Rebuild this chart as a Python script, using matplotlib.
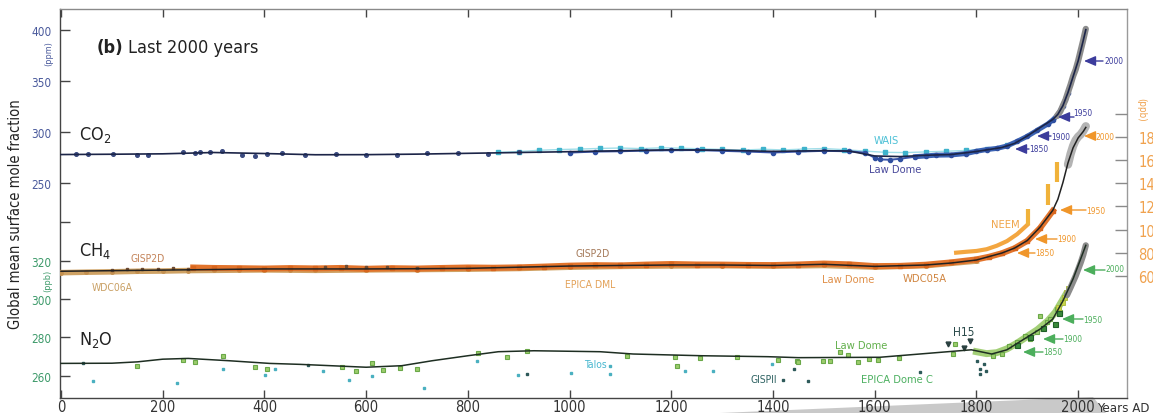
import matplotlib
matplotlib.use('Agg')
import matplotlib.pyplot as plt
from matplotlib.patches import Polygon, FancyArrowPatch
from matplotlib import font_manager as fm

# ---------------- data ----------------
# CO2 (ppm)
co2_line_year = [0, 100, 200, 300, 400, 500, 600, 700, 800, 900, 1000, 1100, 1200, 1300, 1400, 1500, 1550,
                 1600, 1650, 1700, 1750, 1800, 1850, 1875, 1900, 1925, 1950, 1960, 1970, 1980, 1990, 2000, 2010, 2015]
co2_line_ppm = [277.6, 277.9, 278.3, 279.6, 278.6, 277.4, 277.5, 278.0, 278.8, 279.6, 280.4, 281.3, 282.2, 281.9,
                280.7, 281.4, 281.0, 276.2, 275.6, 276.9, 277.6, 280.6, 284.5, 288.5, 295.8, 304.0, 312.0, 317.0,
                325.5, 338.5, 354.0, 369.5, 389.5, 400.0]
co2_dc_year = [30, 53, 102, 150, 171, 240, 264, 273, 293, 317, 356, 381, 405, 435, 480, 540, 600, 660, 720, 780, 840, 900]
co2_dc_ppm = [278.1, 278.1, 278.1, 277.5, 277.5, 279.8, 278.8, 279.8, 280.4, 281.4, 277.5, 276.5, 278.1, 279.1,
              277.6, 278.4, 276.8, 277.6, 279.2, 279.0, 278.6, 279.8]
wais_year = [860, 900, 940, 980, 1020, 1060, 1100, 1140, 1180, 1220, 1260, 1300, 1340, 1380, 1420, 1460, 1500,
             1540, 1580, 1620, 1660, 1700, 1740, 1780, 1820, 1860]
wais_ppm = [279.8, 280.5, 281.8, 282.5, 283.0, 283.6, 284.0, 283.4, 284.2, 283.8, 283.2, 282.6, 282.0, 282.8,
            282.1, 283.0, 283.5, 282.4, 281.0, 279.8, 279.5, 280.2, 280.8, 281.6, 283.5, 286.5]
ld_co2_year = [1000, 1050, 1100, 1150, 1200, 1250, 1300, 1350, 1400, 1450, 1500, 1550, 1580, 1600, 1610, 1630,
               1650, 1680, 1700, 1720, 1750, 1780, 1800, 1820, 1840, 1860, 1880, 1900, 1920, 1940, 1950, 1960,
               1970, 1980]
ld_co2_ppm = [279.5, 280.5, 280.8, 281.5, 281.8, 282.0, 281.2, 280.5, 279.6, 280.5, 281.2, 280.8, 279.5, 274.5,
              272.8, 272.5, 273.5, 275.5, 276.2, 277.0, 277.2, 278.6, 280.8, 282.5, 283.6, 286.0, 290.5, 295.5,
              301.5, 307.5, 311.5, 316.5, 325.0, 338.0]
co2_modern_year = [1958, 1965, 1970, 1975, 1980, 1985, 1990, 1995, 2000, 2005, 2010, 2015]
co2_modern_ppm = [315.3, 320.0, 325.7, 331.1, 338.8, 346.1, 354.4, 360.8, 369.6, 379.8, 389.9, 400.8]

# CH4 (ppb)
ch4_line_year = [0, 100, 200, 300, 400, 500, 600, 700, 800, 900, 1000, 1100, 1200, 1300, 1400, 1500, 1600, 1700,
                 1750, 1800, 1850, 1875, 1900, 1925, 1950, 1960, 1970, 1980, 1990, 2000, 2010, 2015]
ch4_line_ppb = [640, 645, 650, 655, 660, 660, 660, 662, 665, 675, 685, 690, 694, 694, 690, 700, 682, 694, 711,
                737, 797, 840, 905, 1020, 1165, 1260, 1405, 1575, 1705, 1790, 1845, 1880]
ch4_tan_year = [0, 50, 100, 150, 200, 250, 300, 350, 400, 450, 500, 600, 700, 800, 900, 1000, 1100, 1200, 1300,
                1400, 1500, 1600, 1700, 1800]
ch4_tan_ppb = [628, 632, 635, 640, 642, 646, 648, 650, 652, 650, 648, 652, 655, 658, 664, 675, 682, 686, 688, 684,
               690, 676, 688, 728]
ch4_band_year = [260, 300, 350, 400, 450, 500, 550, 600, 650, 700, 750, 800, 850, 900, 950, 1000, 1050, 1100, 1150,
                 1200, 1250, 1300, 1350, 1400, 1450, 1500, 1550, 1600, 1650, 1700, 1750, 1800, 1825, 1850, 1875,
                 1900, 1925, 1950]
ch4_band_ppb = [672, 668, 666, 663, 667, 664, 668, 661, 666, 663, 668, 672, 670, 673, 680, 688, 692, 690, 697, 702,
                698, 697, 694, 693, 698, 706, 699, 684, 686, 696, 716, 742, 765, 795, 838, 902, 1012, 1160]
ch4_gisp_year = [100, 130, 160, 190, 220, 250, 520, 560, 600, 640, 700]
ch4_gisp_ppb = [655, 660, 662, 658, 664, 660, 680, 684, 679, 676, 672]
neem_year = [1760, 1780, 1800, 1820, 1840, 1860, 1880, 1900]
neem_ppb = [800, 808, 815, 830, 860, 900, 960, 1040]
neem_streak_year = [1902, 1940, 1958]
neem_streak_lo = [1040, 1210, 1410]
neem_streak_hi = [1180, 1390, 1580]
ch4_modern_year = [1980, 1985, 1990, 1995, 2000, 2005, 2010, 2015]
ch4_modern_ppb = [1560, 1650, 1720, 1770, 1800, 1820, 1850, 1890]

# N2O (ppb)
n2o_line_year = [0, 100, 150, 200, 250, 330, 410, 470, 600, 670, 730, 800, 860, 930, 1060, 1125, 1260, 1390, 1450,
                 1610, 1730, 1790, 1830, 1860, 1890, 1925, 1950, 1970, 1990, 2005, 2015]
n2o_line_ppb = [266.4, 266.5, 267.2, 268.6, 269.0, 267.8, 266.4, 265.9, 264.4, 265.2, 267.8, 270.4, 272.5, 273.0,
                272.5, 271.3, 270.4, 269.9, 269.4, 269.6, 272.2, 273.5, 271.3, 273.5, 278.5, 284.3, 289.5, 299.0,
                310.5, 321.0, 328.0]
n2o_green_year = [149, 240, 264, 318, 382, 405, 552, 580, 611, 634, 667, 700, 820, 877, 916, 1113, 1207, 1211, 1257,
                  1329, 1410, 1447, 1450, 1499, 1512, 1532, 1548, 1567, 1589, 1607, 1648, 1754, 1758, 1833, 1850,
                  1863, 1880, 1896, 1906, 1919, 1925, 1939, 1945, 1958, 1965]
n2o_green_ppb = [265.2, 268.0, 267.0, 270.4, 264.4, 263.5, 264.5, 262.6, 266.4, 263.0, 264.0, 263.5, 271.7, 270.0,
                 272.7, 270.4, 269.9, 265.2, 269.4, 269.9, 268.0, 267.8, 267.3, 267.6, 267.8, 272.5, 270.8, 267.3,
                 268.7, 268.2, 269.0, 271.3, 276.5, 270.4, 271.3, 275.6, 277.4, 280.9, 279.1, 282.6, 291.3, 287.8,
                 289.6, 294.8, 293.0]
n2o_band_year = [1800, 1820, 1840, 1860, 1880, 1900, 1920, 1940, 1955, 1965, 1975]
n2o_band_ppb = [272.5, 271.5, 272.0, 274.0, 277.0, 280.5, 284.0, 288.5, 293.0, 297.5, 302.0]
n2o_dkgreen_year = [1880, 1906, 1930, 1955, 1962]
n2o_dkgreen_ppb = [276.0, 280.0, 285.0, 287.0, 292.5]
n2o_yellow_year = [1960, 1968, 1972, 1976, 1980]
n2o_yellow_ppb = [296.0, 298.5, 301.0, 303.5, 305.5]
talos_year = [63, 228, 318, 401, 421, 516, 567, 611, 714, 818, 899, 1003, 1080, 1080, 1227, 1282, 1398]
talos_ppb = [257.4, 256.0, 263.5, 260.4, 263.5, 262.4, 257.7, 260.0, 253.6, 267.8, 260.4, 261.4, 265.2, 260.7,
             262.6, 262.3, 266.1]
gispii_year = [43, 486, 916, 1420, 1441, 1469, 1689, 1801, 1807, 1807, 1815, 1818]
gispii_ppb = [266.4, 265.7, 260.9, 257.7, 263.5, 257.4, 262.1, 267.8, 263.5, 260.9, 266.1, 262.6]
h15_year = [1744, 1775, 1788]
h15_ppb = [276.5, 274.5, 278.3]
n2o_modern_year = [1978, 1985, 1990, 1995, 2000, 2005, 2010, 2015]
n2o_modern_ppb = [302.0, 306.0, 309.0, 312.0, 315.5, 319.0, 323.0, 328.0]

year_ticks = [0, 200, 400, 600, 800, 1000, 1200, 1400, 1600, 1800, 2000]
co2_ticks = [250, 300, 350, 400]
n2o_ticks = [260, 280, 300, 320, 340]
n2o_ticklabels = ['260', '280', '300', '320', '']
ch4_ticks = [600, 800, 1000, 1200, 1400, 1600, 1800, 2000]
ch4_ticklabels = ['600', '800', '1000', '1200', '1400', '1600', '1800', '']

# ---------------- fonts: prefer a condensed face ----------------
_fonts = fm.fontManager.ttflist
_names = {f.name for f in _fonts}
NARROW = True
STRETCH = 'normal'
if 'Liberation Sans Narrow' in _names:
    FAM = 'Liberation Sans Narrow'
else:
    _cond = [f.name for f in _fonts
             if str(f.stretch) in ('condensed', 'semi-condensed', 'extra-condensed', '75', '87.5', '62.5')]
    if _cond:
        FAM = _cond[0]
        STRETCH = 'condensed'
    else:
        FAM = 'Roboto' if 'Roboto' in _names else 'DejaVu Sans'
        NARROW = False
plt.rcParams['font.family'] = [FAM, 'DejaVu Sans']
plt.rcParams['font.stretch'] = STRETCH
plt.rcParams['mathtext.fontset'] = 'custom'
plt.rcParams['mathtext.rm'] = FAM
plt.rcParams['mathtext.it'] = FAM
K = 1.0 if NARROW else 0.86   # shrink text when no condensed face is available

W, H = 1153, 414
fig = plt.figure(figsize=(W / 100, H / 100), dpi=100)
L, R, T, B = 60, 1127, 10, 399

# grey "Years AD" wedge behind axis
fig.add_artist(Polygon([(720 / W, 0), (1093 / W, 1 - 398 / H), (1106 / W, 0)],
                       closed=True, transform=fig.transFigure, facecolor='#c9c9c9', edgecolor='none', zorder=0))

ax = fig.add_axes([L / W, 1 - B / H, (R - L) / W, (B - T) / H])
ax.patch.set_alpha(0)
ax_n = ax.twinx()
ax_c = ax.twinx()
ax_n.yaxis.tick_left()
for a in (ax_n, ax_c):
    for s in a.spines.values():
        s.set_visible(False)

ax.set_xlim(-2, 2096)
ax.set_ylim(38.9, 420.3)
ax_n.set_ylim(248.35, 451.3)
ax_c.set_ylim(-452.6, 2900.9)

ax.spines['left'].set_color('#444444')
ax.spines['bottom'].set_color('#444444')
ax.spines['top'].set_color('#8a8a8a')
ax.spines['right'].set_color('#9a9a9a')
for s in ax.spines.values():
    s.set_linewidth(1.0)

ax.set_xticks(year_ticks)
ax.set_xticklabels([str(y) for y in year_ticks])
ax.tick_params(axis='x', direction='in', length=6, width=1, top=True, bottom=True, color='#444444',
               labelsize=10.5 * K, labelcolor='#333333', pad=0.5)
ax.set_yticks(co2_ticks)
ax.set_yticklabels([str(v) for v in co2_ticks])
ax.tick_params(axis='y', direction='in', length=7, width=1, color='#444444', labelsize=8.5 * K,
               labelcolor='#4a5a9c', pad=6, left=True, right=False)
ax_n.set_yticks(n2o_ticks)
ax_n.set_yticklabels(n2o_ticklabels)
ax_n.tick_params(axis='y', direction='in', length=7, width=1, color='#444444', labelsize=8.5 * K,
                 labelcolor='#3d9a6a', pad=6, left=True, right=False, labelleft=True, labelright=False)
ax_c.set_yticks(ch4_ticks)
ax_c.set_yticklabels(ch4_ticklabels)
ax_c.tick_params(axis='y', direction='in', length=9, width=1, color='#8a8a8a', labelsize=10.5 * K,
                 labelcolor='#f0a24e', pad=8, right=True, left=False)

# ---------------- CO2 ----------------
ax.plot(wais_year, wais_ppm, color='#62c8da', lw=1.0, alpha=0.6, zorder=2)
ax.plot(wais_year, wais_ppm, 's', ms=2.2, color='#3fb3cc', zorder=3)
ax.plot(ld_co2_year, ld_co2_ppm, color='#3b55a8', lw=1.4, zorder=3)
ax.plot(ld_co2_year[17:], ld_co2_ppm[17:], color='#3b63b4', lw=3.6, zorder=3)
ax.plot(ld_co2_year, ld_co2_ppm, 'o', ms=3.0, color='#2f4fa0', zorder=3)
ax.plot(co2_dc_year, co2_dc_ppm, 'o', ms=2.6, color='#3a4a80', zorder=3)
ax.plot(co2_modern_year, co2_modern_ppm, color='#8c8c8c', lw=4.5, solid_capstyle='round', zorder=4)
ax.plot(co2_line_year, co2_line_ppm, color='#1c2548', lw=1.2, zorder=5)

# ---------------- CH4 ----------------
ax_c.plot(ch4_tan_year, ch4_tan_ppb, color='#cfa264', lw=4.0, zorder=2)
ax_c.plot(ch4_tan_year, ch4_tan_ppb, 'o', ms=2.5, color='#c49050', zorder=2)
ax_c.plot(ch4_band_year, ch4_band_ppb, color='#e2742c', lw=4.4, zorder=3)
ax_c.plot(ch4_band_year, ch4_band_ppb, 's', ms=2.8, color='#d8661e', zorder=3)
ax_c.plot(ch4_gisp_year, ch4_gisp_ppb, 's', ms=1.8, color='#6e4a30', zorder=3)
ax_c.plot(neem_year, neem_ppb, color='#f3a640', lw=3.0, zorder=2)
ax_c.vlines(neem_streak_year, neem_streak_lo, neem_streak_hi, color='#f0b23a', lw=3.0, zorder=2)
ax_c.plot(ch4_modern_year, ch4_modern_ppb, color='#a0a0a0', lw=6, solid_capstyle='round', alpha=0.8, zorder=4)
ax_c.plot(ch4_line_year, ch4_line_ppb, color='#222222', lw=1.1, zorder=5)

# ---------------- N2O ----------------
ax_n.plot(n2o_band_year, n2o_band_ppb, color='#8cc455', lw=5, alpha=0.8, zorder=2)
ax_n.plot(talos_year, talos_ppb, 's', ms=2.0, color='#4ab0c0', zorder=3)
ax_n.plot(gispii_year, gispii_ppb, 's', ms=2.0, color='#2e5a5a', zorder=3)
ax_n.plot(n2o_green_year, n2o_green_ppb, 's', ms=3.4, mfc='#9ccc6c', mec='#6aa848', mew=0.8, zorder=3)
ax_n.plot(n2o_dkgreen_year, n2o_dkgreen_ppb, 's', ms=3.6, mfc='#3a8a3a', mec='#1f5f28', mew=0.8, zorder=3)
ax_n.plot(n2o_yellow_year, n2o_yellow_ppb, 's', ms=3.6, mfc='#c8d448', mec='#a8b838', mew=0.6, zorder=3)
ax_n.plot(h15_year, h15_ppb, 'v', ms=3.5, color='#2a4040', zorder=3)
ax_n.plot(n2o_modern_year, n2o_modern_ppb, color='#8c8c8c', lw=4.5, solid_capstyle='round', zorder=4)
ax_n.plot(n2o_line_year, n2o_line_ppb, color='#1e2e22', lw=1.1, zorder=5)


# ---------------- annotations ----------------
def ftext(x, y, s, size, **kw):
    kw.setdefault('va', 'center')
    return fig.text(x / W, 1 - y / H, s, fontsize=size * K, **kw)


def farrow(tip, tail, color):
    fig.add_artist(FancyArrowPatch(
        (tip[0] / W, 1 - tip[1] / H), (tail[0] / W, 1 - tail[1] / H), transform=fig.transFigure,
        arrowstyle='<|-,head_length=0.7,head_width=0.3', mutation_scale=10, color=color, lw=1.0,
        shrinkA=0, shrinkB=0, zorder=6))


tb = ftext(97, 48, '(b)', 13, fontweight='bold', color='#222222')
renderer = fig.canvas.get_renderer()
bx1 = tb.get_window_extent(renderer).x1
ftext(bx1 + 4, 48, 'Last 2000 years', 13, color='#222222')
ftext(16, 214, 'Global mean surface mole fraction', 10.5, rotation=90, ha='center', color='#222222')
ftext(79, 135, r'CO$_2$', 13, color='#222222')
ftext(79, 251, r'CH$_4$', 13, color='#222222')
ftext(79, 340, r'N$_2$O', 13, color='#222222')
ftext(49, 54, '(ppm)', 6.5, rotation=90, ha='center', color='#4a5a9c')
ftext(48, 281, '(ppb)', 6.5, rotation=90, ha='center', color='#3d9a6a')
ftext(1141, 110, '(ppb)', 7, rotation=270, ha='center', color='#f0a24e')
ftext(1150, 409, 'Years AD', 9.5, ha='right', color='#333333')

ftext(886, 141, 'WAIS', 8, ha='center', color='#4cc0d6')
ftext(895, 170, 'Law Dome', 8, ha='center', color='#4a4a9c')
ftext(148, 259, 'GISP2D', 7.5, ha='center', color='#c4845a')
ftext(112, 288, 'WDC06A', 7.5, ha='center', color='#c9a064')
ftext(593, 254, 'GISP2D', 7.5, ha='center', color='#a57a5a')
ftext(590, 285, 'EPICA DML', 7.5, ha='center', color='#e3a259')
ftext(848, 280, 'Law Dome', 8, ha='center', color='#e0904a')
ftext(925, 279, 'WDC05A', 8, ha='center', color='#d0843e')
ftext(1005, 225, 'NEEM', 8, ha='center', color='#f0a54a')
ftext(595, 365, 'Talos', 7.5, ha='center', color='#4ab8d0')
ftext(764, 380, 'GISPII', 7.5, ha='center', color='#2e6262')
ftext(861, 346, 'Law Dome', 8, ha='center', color='#62b04c')
ftext(897, 380, 'EPICA Dome C', 8, ha='center', color='#4cb060')
ftext(964, 333, 'H15', 8.5, ha='center', color='#2a4a4a')

arrows = [
    ('#3c3c9c', (1084, 62), (1103, 62), (1104, 62), '2000'),
    ('#3c3c9c', (1058, 118), (1074, 118), (1073, 113), '1950'),
    ('#3c3c9c', (1037, 137), (1051, 137), (1051, 137), '1900'),
    ('#3c3c9c', (1015, 150), (1029, 150), (1029, 150), '1850'),
    ('#f0962a', (1084, 137), (1095, 137), (1095, 137), '2000'),
    ('#f0962a', (1060, 211), (1086, 211), (1086, 211), '1950'),
    ('#f0962a', (1035, 240), (1057, 240), (1057, 240), '1900'),
    ('#f0962a', (1017, 254), (1035, 254), (1035, 254), '1850'),
    ('#4cae5c', (1083, 271), (1105, 271), (1105, 270), '2000'),
    ('#4cae5c', (1062, 320), (1083, 320), (1083, 321), '1950'),
    ('#4cae5c', (1043, 340), (1063, 340), (1063, 340), '1900'),
    ('#4cae5c', (1023, 353), (1043, 353), (1043, 353), '1850'),
]
for col, tip, tail, tpos, lab in arrows:
    farrow(tip, tail, col)
    ftext(tpos[0], tpos[1], lab, 6, color=col)

fig.savefig('out.png', dpi=100)
